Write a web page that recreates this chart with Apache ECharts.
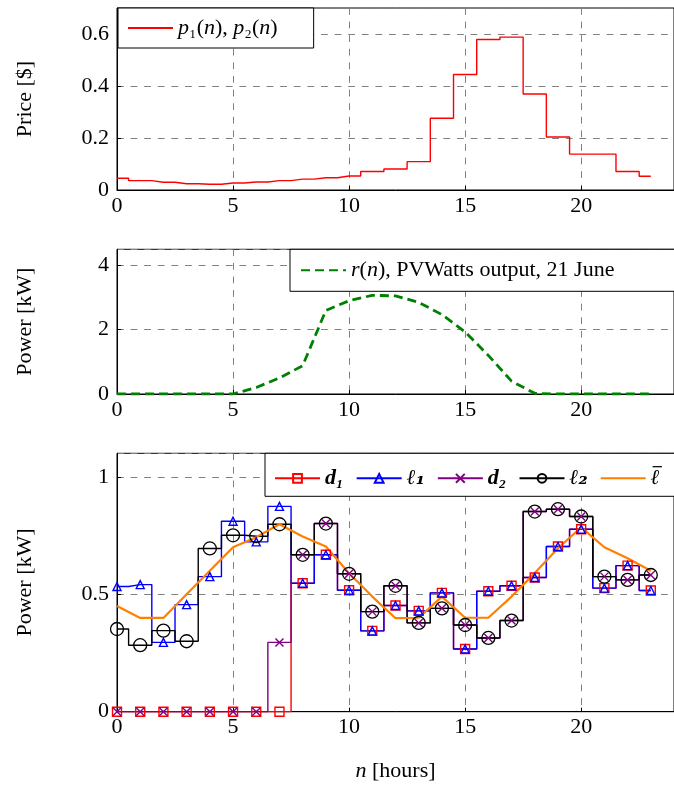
<!DOCTYPE html>
<html>
<head>
<meta charset="utf-8">
<script src="https://cdn.jsdelivr.net/npm/echarts@6/dist/echarts.min.js"></script>
<style>
html, body { margin: 0; padding: 0; background: #fff; }
#chart { width: 674px; height: 786px; }
</style>
</head>
<body>
<div id="chart"></div>
<script>
// Hour index n = 0 .. 23
const hours = [0, 1, 2, 3, 4, 5, 6, 7, 8, 9, 10, 11, 12, 13, 14, 15, 16, 17, 18, 19, 20, 21, 22, 23];

// Electricity price p1(n) = p2(n) in $
const price = [0.045, 0.036, 0.030, 0.024, 0.022, 0.027, 0.031, 0.036, 0.042, 0.047, 0.054, 0.071,
               0.081, 0.109, 0.276, 0.444, 0.579, 0.588, 0.369, 0.204, 0.138, 0.138, 0.071, 0.053];

// PV output r(n) in kW (PVWatts, 21 June)
const pvOutput = [0, 0, 0, 0, 0, 0, 0.20, 0.50, 0.88, 2.60, 2.90, 3.07,
                  3.05, 2.85, 2.47, 1.93, 1.20, 0.40, 0.02, 0, 0, 0, 0, 0];

// Power profiles in kW
const d1 = [0, 0, 0, 0, 0, 0, 0, 0, 0.547, 0.668, 0.517, 0.344,
            0.452, 0.429, 0.506, 0.267, 0.513, 0.536, 0.571, 0.703, 0.777, 0.526, 0.622, 0.516];
const l1 = [0.533, 0.541, 0.295, 0.456, 0.575, 0.811, 0.723, 0.874, 0.547, 0.668, 0.517, 0.344,
            0.452, 0.429, 0.506, 0.267, 0.513, 0.536, 0.571, 0.703, 0.777, 0.526, 0.622, 0.516];
const d2 = [0, 0, 0, 0, 0, 0, 0, 0.295, 0.668, 0.801, 0.587, 0.426,
            0.536, 0.378, 0.440, 0.369, 0.314, 0.388, 0.852, 0.862, 0.831, 0.575, 0.561, 0.582];
const l2 = [0.352, 0.283, 0.345, 0.300, 0.695, 0.751, 0.747, 0.798, 0.668, 0.801, 0.587, 0.426,
            0.536, 0.378, 0.440, 0.369, 0.314, 0.388, 0.852, 0.862, 0.831, 0.575, 0.561, 0.582];
const lBar = [0.450, 0.399, 0.399, 0.500, 0.600, 0.700, 0.743, 0.798, 0.746, 0.703, 0.589, 0.490,
              0.398, 0.400, 0.490, 0.400, 0.400, 0.490, 0.590, 0.696, 0.785, 0.700, 0.653, 0.600];

// Axis ticks
const xTickStep = 5;
const priceTickStep = 0.2;
const pvTickStep = 2;
const powerTickStep = 0.5;

const SERIF = "'Liberation Serif', 'DejaVu Serif', serif";
const FS = 22;

const pairs = arr => hours.map((h, i) => [h, arr[i]]);

function xAxisCfg(gridIndex, extra) {
  return Object.assign({
    type: 'value', gridIndex, min: 0, max: 24, interval: xTickStep,
    axisLine: { show: true, onZero: false, lineStyle: { color: '#000', width: 1 } },
    axisTick: { show: true, inside: true, length: 4, lineStyle: { color: '#000' } },
    axisLabel: { color: '#000', fontSize: FS, fontFamily: SERIF, margin: 5, showMaxLabel: false },
    splitLine: { show: true, lineStyle: { color: '#808080', type: [6.8, 6.8], width: 1 } }
  }, extra || {});
}

function yAxisCfg(gridIndex, max, interval, name) {
  return {
    type: 'value', gridIndex, min: 0, max, interval,
    name, nameLocation: 'middle', nameGap: 81, nameRotate: 90,
    nameTextStyle: { color: '#000', fontSize: FS, fontFamily: SERIF },
    axisLine: { show: true, lineStyle: { color: '#000', width: 1 } },
    axisTick: { show: true, inside: true, length: 4, lineStyle: { color: '#000' } },
    axisLabel: { color: '#000', fontSize: FS, fontFamily: SERIF, margin: 8, showMaxLabel: false },
    splitLine: { show: true, lineStyle: { color: '#808080', type: [6.8, 6.8], width: 1 } }
  };
}

const gridBase = { left: 117, width: 561.6, show: true, borderColor: '#000', borderWidth: 1, backgroundColor: 'transparent' };

const legendBase = {
  orient: 'horizontal', itemWidth: 45, itemHeight: 11, selectedMode: false,
  borderColor: '#000', borderWidth: 1, borderRadius: 0, backgroundColor: '#fff'
};

const NAME_P = 'p1p2';
const NAME_R = 'r';
const NAME_D1 = 'd1', NAME_L1 = 'l1', NAME_D2 = 'd2', NAME_L2 = 'l2', NAME_LB = 'lbar';

const mathRich = {
  i: { fontFamily: SERIF, fontSize: FS, fontStyle: 'italic', color: '#000' },
  r: { fontFamily: SERIF, fontSize: FS, color: '#000' },
  b: { fontFamily: SERIF, fontSize: FS, fontStyle: 'italic', fontWeight: 'bold', color: '#000' },
  l: { fontFamily: "'DejaVu Serif', serif", fontSize: FS - 1, fontStyle: 'italic', fontWeight: 'bold', color: '#000' },
  // the bar over the mean load symbol, set on its own thin line
  bar: { fontFamily: "'DejaVu Sans', sans-serif", fontSize: 15, fontWeight: 'bold', color: '#000', lineHeight: 1, padding: [0, 0, 0, 2] },
  lb: { fontFamily: "'DejaVu Serif', serif", fontSize: FS - 1, fontStyle: 'italic', fontWeight: 'bold', color: '#000', lineHeight: 21 }
};

const legendText = {
  [NAME_P]: '{i|p}{r|₁(}{i|n}{r|), }{i|p}{r|₂(}{i|n}{r|)}',
  [NAME_R]: '{i|r}{r|(}{i|n}{r|), PVWatts output, 21 June}',
  [NAME_D1]: '{b|d₁}',
  [NAME_L1]: '{l|ℓ₁}',
  [NAME_D2]: '{b|d₂}',
  [NAME_L2]: '{l|ℓ₂}',
  [NAME_LB]: '{bar|─}\n{lb|ℓ}'
};
const legendFormatter = name => legendText[name];

// line-only legend sample (no marker)
const noMarker = { opacity: 0 };

const xMark = 'path://M0,0L8,8M8,0L0,8';

const option = {
  backgroundColor: '#fff',
  animation: false,
  grid: [
    Object.assign({ top: 8, height: 182 }, gridBase),
    Object.assign({ top: 249.3, height: 144.7 }, gridBase),
    Object.assign({ top: 453.3, height: 258.4 }, gridBase)
  ],
  xAxis: [
    xAxisCfg(0),
    xAxisCfg(1),
    xAxisCfg(2, {
      name: '{i|n} [hours]', nameLocation: 'middle', nameGap: 49,
      nameTextStyle: { color: '#000', fontSize: FS, fontFamily: SERIF, rich: mathRich }
    })
  ],
  yAxis: [
    yAxisCfg(0, 0.7, priceTickStep, 'Price [$]'),
    yAxisCfg(1, 4.5, pvTickStep, 'Power [kW]'),
    yAxisCfg(2, 1.1, powerTickStep, 'Power [kW]')
  ],
  legend: [
    Object.assign({}, legendBase, {
      data: [{ name: NAME_P, itemStyle: noMarker }], left: 118, top: 8, padding: [9, 36, 9, 9],
      formatter: legendFormatter,
      textStyle: { fontSize: FS, fontFamily: SERIF, rich: mathRich }
    }),
    Object.assign({}, legendBase, {
      data: [{ name: NAME_R, itemStyle: noMarker }], left: 290, top: 249.3, width: 460, padding: [10, 62, 10, 10],
      formatter: legendFormatter,
      textStyle: { fontSize: FS, fontFamily: SERIF, rich: mathRich }
    }),
    Object.assign({}, legendBase, {
      data: [NAME_D1, NAME_L1, NAME_D2, NAME_L2, { name: NAME_LB, itemStyle: noMarker }],
      left: 265, top: 453.3, width: 480, padding: [7, 14, 7, 9], itemGap: 12,
      formatter: legendFormatter,
      textStyle: { fontSize: FS, fontFamily: SERIF, rich: mathRich }
    })
  ],
  series: [
    {
      name: NAME_P, type: 'line', xAxisIndex: 0, yAxisIndex: 0, step: 'middle',
      symbol: 'none', data: pairs(price),
      lineStyle: { color: '#ff0000', width: 1.4 }, itemStyle: { color: '#ff0000' }
    },
    {
      name: NAME_R, type: 'line', xAxisIndex: 1, yAxisIndex: 1,
      symbol: 'none', data: pairs(pvOutput),
      lineStyle: { color: '#008000', width: 2.8, type: [9, 5] }, itemStyle: { color: '#008000' }
    },
    {
      name: NAME_D1, type: 'line', xAxisIndex: 2, yAxisIndex: 2, step: 'middle',
      symbol: 'rect', symbolSize: 9, showAllSymbol: true, data: pairs(d1),
      lineStyle: { color: '#ff0000', width: 1.4 },
      itemStyle: { color: 'rgba(255,255,255,0)', borderColor: '#ff0000', borderWidth: 1.4 }
    },
    {
      name: NAME_L1, type: 'line', xAxisIndex: 2, yAxisIndex: 2, step: 'middle',
      symbol: 'triangle', symbolSize: 8, showAllSymbol: true, data: pairs(l1),
      lineStyle: { color: '#0000ff', width: 1.4 },
      itemStyle: { color: 'rgba(255,255,255,0)', borderColor: '#0000ff', borderWidth: 1.4 }
    },
    {
      name: NAME_D2, type: 'line', xAxisIndex: 2, yAxisIndex: 2, step: 'middle',
      symbol: xMark, symbolSize: 8, showAllSymbol: true, data: pairs(d2),
      lineStyle: { color: '#800080', width: 1.4 },
      itemStyle: { color: '#800080', borderColor: '#800080', borderWidth: 1.4 }
    },
    {
      name: NAME_L2, type: 'line', xAxisIndex: 2, yAxisIndex: 2, step: 'middle',
      symbol: 'circle', symbolSize: 13, showAllSymbol: true, data: pairs(l2),
      lineStyle: { color: '#000000', width: 1.4 },
      itemStyle: { color: 'rgba(255,255,255,0)', borderColor: '#000000', borderWidth: 1.3 }
    },
    {
      name: NAME_LB, type: 'line', xAxisIndex: 2, yAxisIndex: 2,
      symbol: 'none', data: pairs(lBar),
      lineStyle: { color: '#ff8000', width: 2.2 }, itemStyle: { color: '#ff8000' }
    }
  ]
};

const chart = echarts.init(document.getElementById('chart'), null, { renderer: 'canvas' });
chart.setOption(option);
</script>
</body>
</html>
